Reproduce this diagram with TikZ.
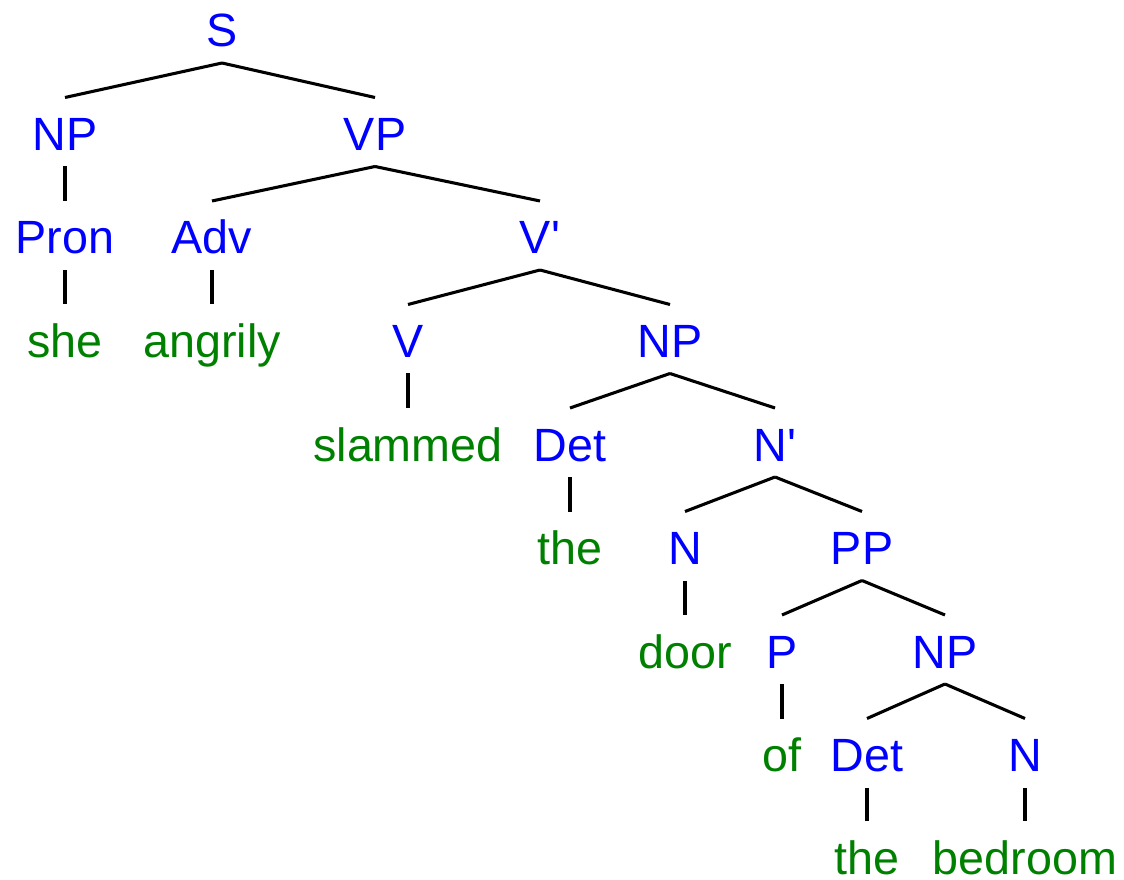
\documentclass[tikz,border=0pt]{standalone}
\usepackage{fontspec}
\setmainfont{Liberation Sans}
\usetikzlibrary{calc}
\definecolor{catblue}{RGB}{0,0,255}
\definecolor{wordgreen}{RGB}{0,128,0}
\begin{document}
\begin{tikzpicture}[x=0.75pt,y=-0.75pt,
  lab/.style={anchor=base,inner sep=0pt,font=\fontsize{35}{40}\selectfont},
  cat/.style={lab,text=catblue},
  word/.style={lab,text=wordgreen},
  edge/.style={line width=2.3pt,black}]
\useasboundingbox (0,0) rectangle (1124,880);
% row baselines: 47 + 103.5k
\node[cat]  (S)    at (222,47)    {S};
\node[cat]  (NPa)  at (65,150.5)  {NP};
\node[cat]  (VP)   at (375,150.5) {VP};
\node[cat]  (Pron) at (65,254)    {Pron};
\node[cat]  (Adv)  at (212,254)   {Adv};
\node[cat]  (Vbar) at (540,254)   {V\textquotesingle};
\node[word] (she)  at (65,357.5)  {she};
\node[word] (angrily) at (212,357.5) {angrily};
\node[cat]  (V)    at (408,357.5) {V};
\node[cat]  (NPb)  at (670,357.5) {NP};
\node[word] (slammed) at (408,461) {slammed};
\node[cat]  (Deta) at (570,461)   {Det};
\node[cat]  (Nbar) at (775,461)   {N\textquotesingle};
\node[word] (thea) at (570,564.5) {the};
\node[cat]  (Na)   at (685,564.5) {N};
\node[cat]  (PP)   at (862,564.5) {PP};
\node[word] (door) at (685,668)   {door};
\node[cat]  (P)    at (782,668)   {P};
\node[cat]  (NPc)  at (945,668)   {NP};
\node[word] (of)   at (782,771.5) {of};
\node[cat]  (Detb) at (867,771.5) {Det};
\node[cat]  (Nb)   at (1025,771.5){N};
\node[word] (theb) at (867,874)   {the};
\node[word] (bedroom) at (1025,874) {bedroom};
\foreach \p/\c in {S/NPa,S/VP,NPa/Pron,VP/Adv,VP/Vbar,Pron/she,Adv/angrily,
  Vbar/V,Vbar/NPb,V/slammed,NPb/Deta,NPb/Nbar,Deta/thea,Nbar/Na,Nbar/PP,
  Na/door,PP/P,PP/NPc,P/of,NPc/Detb,NPc/Nb,Detb/theb,Nb/bedroom}
  \draw[edge] ($(\p.base)+(0,16)$) -- ($(\c.base)+(0,-53)$);
\end{tikzpicture}
\end{document}
